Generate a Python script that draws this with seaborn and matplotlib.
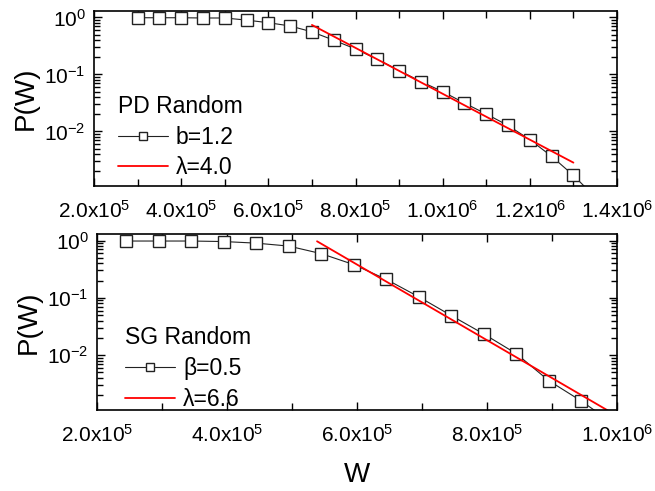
import matplotlib
matplotlib.use("Agg")
import matplotlib.pyplot as plt
import seaborn as sns
import numpy as np
import pandas as pd
from matplotlib.ticker import MultipleLocator, LogLocator, NullFormatter

# ---------------- data ----------------
pd_w = [3.0e5, 3.5e5, 4.0e5, 4.5e5, 5.0e5, 5.5e5, 6.0e5, 6.5e5, 7.0e5, 7.5e5, 8.0e5,
        8.5e5, 9.0e5, 9.5e5, 1.0e6, 1.05e6, 1.1e6, 1.15e6, 1.2e6, 1.25e6, 1.3e6, 1.35e6]
pd_p = [0.99, 0.99, 0.99, 0.98, 0.98, 0.90, 0.81, 0.71, 0.56, 0.40, 0.28,
        0.185, 0.117, 0.075, 0.050, 0.0314, 0.0202, 0.0127, 0.00716, 0.00365, 0.00169, 0.0007]
pd_fit_w = [7.0e5, 1.3e6]
pd_fit_p = [0.74, 0.00283]

sg_w = [2.45e5, 2.95e5, 3.45e5, 3.95e5, 4.45e5, 4.95e5, 5.45e5, 5.95e5, 6.45e5, 6.95e5,
        7.45e5, 7.95e5, 8.45e5, 8.95e5, 9.45e5, 9.95e5]
sg_p = [0.98, 0.98, 0.98, 0.96, 0.90, 0.80, 0.59, 0.38, 0.21, 0.104,
        0.049, 0.0234, 0.0106, 0.00358, 0.00158, 0.00063]
sg_fit_w = [5.385e5, 1.0e6]
sg_fit_p = [0.97, 0.00087]

top_xticks = [2e5, 4e5, 6e5, 8e5, 1.0e6, 1.2e6, 1.4e6]
top_xlabels = [r"2.0x10$^5$", r"4.0x10$^5$", r"6.0x10$^5$", r"8.0x10$^5$",
               r"1.0x10$^6$", r"1.2x10$^6$", r"1.4x10$^6$"]
bot_xticks = [2e5, 4e5, 6e5, 8e5, 1.0e6]
bot_xlabels = [r"2.0x10$^5$", r"4.0x10$^5$", r"6.0x10$^5$", r"8.0x10$^5$", r"1.0x10$^6$"]
yticks = [1e0, 1e-1, 1e-2]
ylabels = [r"10$^0$", r"10$^{-1}$", r"10$^{-2}$"]

# ---------------- style ----------------
sns.set_style("ticks")
plt.rcParams["font.family"] = ["Liberation Sans", "DejaVu Sans"]
plt.rcParams["mathtext.default"] = "regular"
plt.rcParams["axes.linewidth"] = 1.2
for k in ["text.color", "axes.labelcolor", "xtick.color", "ytick.color", "axes.edgecolor"]:
    plt.rcParams[k] = "black"

fig = plt.figure(figsize=(6.55, 4.91), dpi=100)
ax1 = fig.add_axes([94/655, 1 - 186/491, 523/655, 175/491])
ax2 = fig.add_axes([97/655, 1 - 410/491, 520/655, 176/491])

def draw(ax, w, p, fw, fp, title, lab1, lab2, xlim, xticks, xlabels, anchor):
    d = pd.DataFrame({"W": w, "P": p})
    f = pd.DataFrame({"W": fw, "P": fp})
    sns.lineplot(data=d, x="W", y="P", ax=ax, color="#222222", lw=0.8,
                 marker="s", markersize=8, markerfacecolor="white",
                 markeredgecolor="#222222", markeredgewidth=1.0, label=lab1)
    sns.lineplot(data=f, x="W", y="P", ax=ax, color="red", lw=1.3, label=lab2)
    ax.set_yscale("log")
    ax.set_xlim(*xlim)
    ax.set_ylim(1.1e-3, 1.3)
    ax.set_xticks(xticks, xlabels)
    ax.xaxis.set_minor_locator(MultipleLocator(1e5))
    ax.set_yticks(yticks, ylabels)
    ax.yaxis.set_minor_locator(LogLocator(base=10, subs=np.arange(2, 10)))
    ax.yaxis.set_minor_formatter(NullFormatter())
    ax.tick_params(which="both", direction="in", top=True, right=True,
                   width=1.0, labelsize=15, pad=6, color="black", labelcolor="black")
    ax.tick_params(axis="x", which="major", pad=10)
    ax.tick_params(which="major", length=6)
    ax.tick_params(which="minor", length=5)
    ax.tick_params(axis="y", which="minor", length=4)
    ax.set_ylabel("P(W)", fontsize=20, labelpad=4)
    ax.set_xlabel("")
    for s in ax.spines.values():
        s.set_visible(True)
        s.set_color("black")
    ax.legend(title=title, loc="upper left", bbox_to_anchor=anchor,
              frameon=False, fontsize=16.5, title_fontsize=16.5,
              borderaxespad=0, borderpad=0, handlelength=2.2,
              handletextpad=0.33, labelspacing=0.33, alignment="left",
              markerscale=0.7)

draw(ax1, pd_w, pd_p, pd_fit_w, pd_fit_p, "PD Random", "b=1.2", "λ=4.0",
     (2e5, 1.4e6), top_xticks, top_xlabels, (0.046, 0.52))
draw(ax2, sg_w, sg_p, sg_fit_w, sg_fit_p, "SG Random", "β=0.5", "λ=6.6",
     (2e5, 1.0e6), bot_xticks, bot_xlabels, (0.054, 0.475))
ax2.set_xlabel("W", fontsize=20, labelpad=12)

fig.savefig("out.png", dpi=100)
